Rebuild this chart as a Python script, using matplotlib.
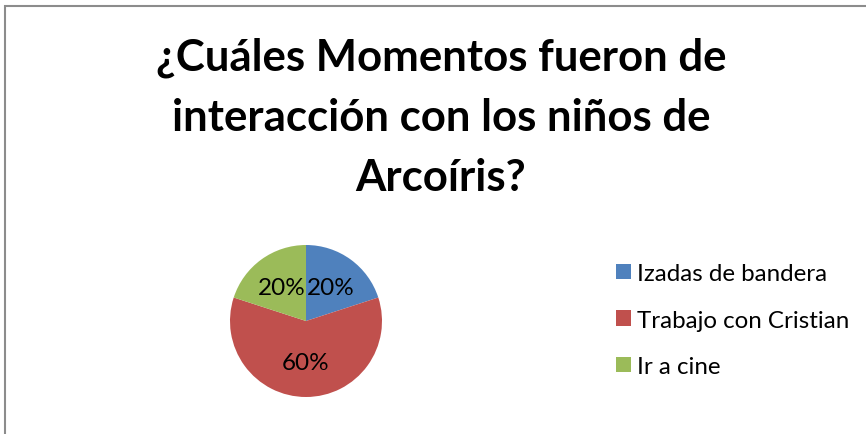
import matplotlib.pyplot as plt
from matplotlib.patches import Rectangle

# dane do wykresu
categorias = ["Izadas de bandera", "Trabajo con Cristian", "Ir a cine"]
valores = [20, 60, 20]
colores = ["#4f81bd", "#c0504d", "#9bbb59"]
titulo = "¿Cuáles Momentos fueron de\ninteracción con los niños de\nArcoíris?"

plt.rcParams['font.family'] = ['Lato', 'DejaVu Sans']

W, H = 866, 435
fig = plt.figure(figsize=(W / 100, H / 100), dpi=100)

# ramka wykresu (obcięta z prawej i od dołu)
fig.patches.append(Rectangle((5 / W, -0.1), 1.2, (H - 7) / H + 0.1,
                             transform=fig.transFigure, fill=False,
                             edgecolor="#8c8c8c", linewidth=1.5))

fig.text(441 / W, 1 - 118 / H, titulo, ha='center', va='center',
         fontsize=31.5, fontweight='bold', linespacing=1.6)

# oś na kołowy: środek (306, 322), promień 76 px
r = 76
ax = fig.add_axes([(306 - r) / W, (H - 322 - r) / H, 2 * r / W, 2 * r / H])
wedges, _, autotexts = ax.pie(valores, colors=colores, startangle=90,
                              counterclock=False, autopct='%1.0f%%',
                              pctdistance=0.55,
                              textprops={'fontsize': 17.5, 'color': 'black'})
ax.set_xlim(-1, 1)
ax.set_ylim(-1, 1)
ax.set_aspect('equal')
ax.axis('off')

fig.legend(wedges, categorias, loc='center left',
           bbox_to_anchor=(616 / W, 1 - 321 / H), frameon=False,
           borderpad=0, borderaxespad=0,
           fontsize=17.4, handlelength=0.62, handleheight=0.62,
           handletextpad=0.25, labelspacing=1.05)

fig.savefig("out.png", dpi=100)
